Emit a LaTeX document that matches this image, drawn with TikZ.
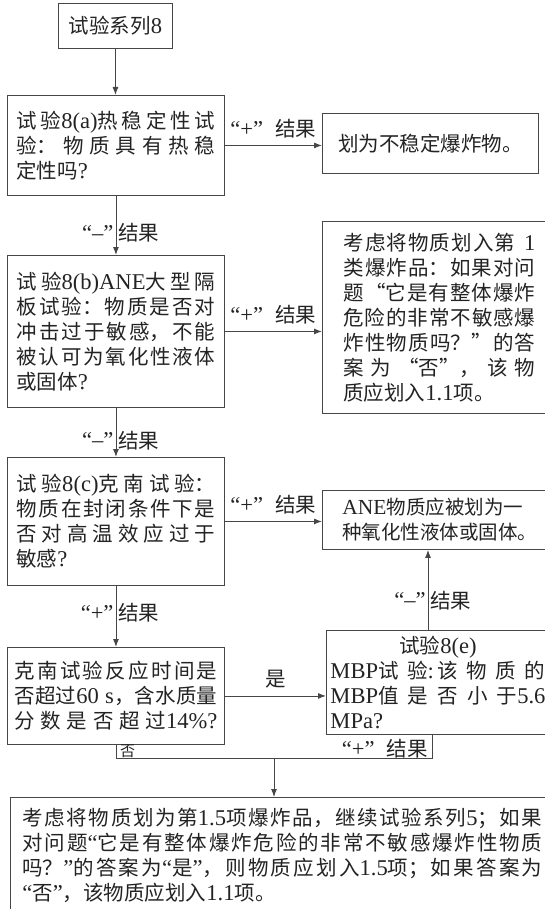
\documentclass[tikz,border=0pt]{standalone}
\usepackage{fontspec}
\setmainfont{Liberation Serif}[Scale=1.1]
\newfontfamily\cjk{Noto Sans CJK SC}
\usepackage{xcolor}
\usepackage{tikz}
\usetikzlibrary{arrows.meta, positioning, calc}
\definecolor{lineg}{RGB}{70,70,70}
\definecolor{textg}{RGB}{35,35,35}
\XeTeXlinebreaklocale "zh"
\XeTeXlinebreakskip=0pt plus 1pt
\newcommand{\lat}[1]{{\rmfamily #1}}
\tikzset{
  startbox/.style={draw=lineg, line width=0.9pt, anchor=north west, inner sep=0pt, align=center},
  testbox/.style={draw=lineg, line width=0.9pt, anchor=north west, inner xsep=9pt, inner ysep=0pt, text width=199pt, align=justify},
  resbox/.style={testbox, inner xsep=21pt, text width=192pt},
  conn/.style={draw=lineg, line width=0.9pt},
  arrconn/.style={conn, -{Latex[length=8pt,width=6pt]}},
  lbl/.style={inner sep=2pt, text=textg},
}

\begin{document}
\begin{tikzpicture}[x=1pt, y=-1pt, font=\cjk\fontsize{20.5}{25}\selectfont, text=textg]
\useasboundingbox (0,0) rectangle (545,909);
\clip (0,0) rectangle (545,909);

% Left column: tests
\node[startbox, minimum width=114pt, minimum height=45pt] (b0) at (58,3) {试验系列\lat{8}};
\node[testbox, minimum height=100pt] (b8a) at (7,95) {试验\lat{8(a)}热稳定性试\linebreak 验：物质具有热稳\linebreak 定性吗\lat{?}};
\node[testbox, minimum height=152pt] (b8b) at (7,255) {试验\lat{8(b)ANE}大型隔\linebreak 板试验：物质是否对\linebreak 冲击过于敏感，不能\linebreak 被认可为氧化性液体\linebreak 或固体\lat{?}};
\node[testbox, minimum height=128pt] (b8c) at (7,457) {试验\lat{8(c)}克南试验：\linebreak 物质在封闭条件下是\linebreak 否对高温效应过于\linebreak 敏感\lat{?}};
\node[testbox, inner xsep=7pt, text width=203pt, minimum height=97pt] (bkn) at (7,647) {克南试验反应时间是\linebreak 否超过\lat{60 s}，含水质量\linebreak 分数是否超过\lat{14\%?}{\parfillskip=0pt\par}};

% Right column: results
\node[startbox, minimum width=216pt, minimum height=60pt] (rb8a) at (322,113) {划为不稳定爆炸物。};
\node[resbox, minimum height=192pt] (rb8b) at (322,221) {考虑将物质划入第\lat{\ 1}\linebreak 类爆炸品：如果对问\linebreak 题“它是有整体爆炸\linebreak 危险的非常不敏感爆\linebreak 炸性物质吗？”的答\linebreak 案为“否”，该物\linebreak 质应划入\lat{1.1}项。};
\node[resbox, inner xsep=20pt, text width=210pt, align=left, minimum height=59pt, font=\cjk\fontsize{19.5}{25}\selectfont] (rane) at (322,490) {\lat{ANE}物质应被划为一\\种氧化性液体或固体。};
\node[testbox, inner xsep=4pt, text width=215pt, minimum height=104pt] (b8e) at (326,630) {\hspace*{\fill}试验\lat{8(e)}\hspace*{\fill}\linebreak \lat{MBP}试验\lat{:\,}该物质的\linebreak \lat{MBP}值是否小于\lat{5.6}\linebreak \lat{MPa?}};

% Final box
\node[testbox, inner xsep=12pt, text width=520pt, minimum height=116pt] (fin) at (10,797) {考虑将物质划为第\lat{1.5}项爆炸品，继续试验系列\lat{5}；如果\linebreak 对问题\lat{“}它是有整体爆炸危险的非常不敏感爆炸性物质\linebreak 吗？\lat{”}的答案为\lat{“}是\lat{”}，则物质应划入\lat{1.5}项；如果答案为\linebreak \lat{“}否\lat{”}，该物质应划入\lat{1.1}项。};

% Connectors
\coordinate (ux) at (428,0);
\coordinate (mj) at (274,758);
\coordinate (rx) at (432,758);
\draw[arrconn] (b0.south) -- (b0.south |- b8a.north);
\draw[arrconn] (b8a.east) -- (b8a.east -| rb8a.west) node[lbl, midway, above=5pt] (l1) {\lat{“+”}\hspace{.6em}结果};
\draw[arrconn] (b8a.south) -- (b8b.north) node[lbl, pos=.62, left] (l2q) {\lat{“–”}} node[lbl, pos=.62, right] (l2t) {结果};
\draw[arrconn] (b8b.east) -- (b8b.east -| rb8b.west) node[lbl, midway, above=5pt] (l3) {\lat{“+”}\hspace{.6em}结果};
\draw[arrconn] (b8b.south) -- (b8c.north) node[lbl, pos=.66, left] (l4q) {\lat{“–”}} node[lbl, pos=.66, right] (l4t) {结果};
\draw[arrconn] (b8c.east) -- (b8c.east -| rane.west) node[lbl, midway, above=5pt] (l5) {\lat{“+”}\hspace{.6em}结果};
\draw[arrconn] (b8c.south) -- (bkn.north) node[lbl, pos=.44, left] (l6q) {\lat{“+”}} node[lbl, pos=.44, right] (l6t) {结果};
\draw[arrconn] (bkn.east) -- (bkn.east -| b8e.west) node[lbl, midway, above=5pt] (l7) {是};
\draw[arrconn] (b8e.north -| ux) -- (rane.south -| ux) node[lbl, pos=.37, left] (l8q) {\lat{“–”}} node[lbl, pos=.37, right] (l8t) {结果};

% Merge into final box
\draw[conn] (bkn.south) |- (rx) -- (b8e.south -| rx);
\draw[arrconn] (mj) -- (fin.north -| mj);
\node[lbl, anchor=south west, inner sep=1pt, font=\cjk\fontsize{15}{15}\selectfont] (no) at (119,759) {否};
\node[lbl, anchor=south east, inner sep=1pt] (l9) at (429,759) {\lat{“+”}\hspace{.6em}结果};
\end{tikzpicture}
\end{document}
